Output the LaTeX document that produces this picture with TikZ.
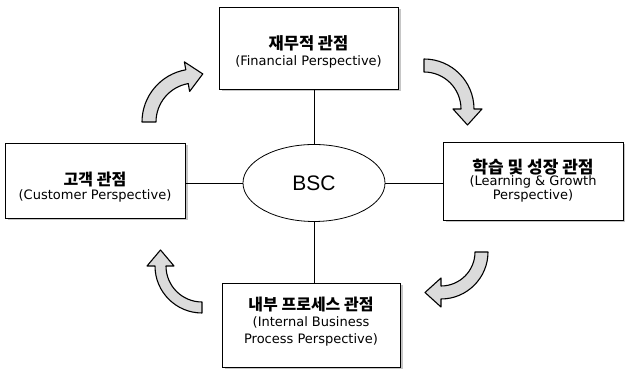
\documentclass[tikz,border=0pt]{standalone}
\usepackage{fontspec}
\setmainfont{Liberation Sans}
\newfontfamily\kr{Noto Sans CJK KR}
\newfontfamily\en{DejaVu Sans}
\usetikzlibrary{calc,shapes.geometric,shadows}
\tikzset{
  persp/.style={draw=black, line width=0.8pt, fill=white, inner sep=0pt,
    drop shadow={shadow xshift=2.5pt, shadow yshift=-2.5pt, fill=gray!45, opacity=1}},
  ktext/.style={inner sep=0pt, font=\kr\bfseries\fontsize{#1}{#1}\selectfont},
  etext/.style={inner sep=0pt, font=\en\fontsize{#1}{#1}\selectfont},
  hub/.style={ellipse, draw=black, line width=0.8pt, fill=white, minimum width=142pt,
    minimum height=77pt, inner sep=0pt, font=\fontsize{21}{24}\selectfont},
  link/.style={line width=0.8pt},
  bigarrow/.style={draw=black, line width=1.1pt, fill=gray!28, line join=round}
}
% clockwise block arrow: cx, cy, r inner, r outer, start angle, end angle
\newcommand\cwarrow[6]{%
  \begin{scope}[shift={(#1,#2)}]
    \draw[bigarrow] ({#5}:{#4}) arc[start angle=#5, end angle=#6, radius=#4]
      -- ({#6}:{#4+8}) -- ($({#6}:{(#3+#4)/2})+({#6-90}:16)$)
      -- ({#6}:{#3-8}) -- ({#6}:{#3})
      arc[start angle=#6, end angle=#5, radius=#3] -- cycle;
  \end{scope}}
\begin{document}
\begin{tikzpicture}[x=1pt,y=1pt]
\useasboundingbox (0,0) rectangle (625,371);
\node[persp, minimum width=179pt, minimum height=82pt] (fin) at (308.5,323) {};
\node[persp, minimum width=180pt, minimum height=75pt] (cus) at (95,190.5) {};
\node[persp, minimum width=180pt, minimum height=78pt] (lrn) at (533,190) {};
\node[persp, minimum width=178pt, minimum height=84pt] (ibp) at (311,46) {};
% texts
\node[ktext=16.5] (fink) at (308.5,327.5) {재무적 관점};
\node[etext=13] (fine) at (308.5,309) {(Financial Perspective)};
\node[ktext=16] (cusk) at (95,191) {고객 관점};
\node[etext=13] (cuse) at (95,175) {(Customer Perspective)};
\node[ktext=17] (lrnk) at (533,204) {학습 및 성장 관점};
\node[etext=13] (lrne1) at (533,189) {(Learning \& Growth};
\node[etext=13] (lrne2) at (533,175) {Perspective)};
\node[ktext=16] (ibpk) at (311,66) {내부 프로세스 관점};
\node[etext=13] (ibpe1) at (311,49) {(Internal Business};
\node[etext=13] (ibpe2) at (311,31) {Process Perspective)};
\node[hub] (bsc) at (314,188) {BSC};
\draw[link] (bsc.north) -- (bsc.north |- fin.south);
\draw[link] (bsc.south) -- (bsc.south |- ibp.north);
\draw[link] (bsc.west) -- (bsc.west -| cus.east);
\draw[link] (bsc.east) -- (bsc.east -| lrn.west);
\cwarrow{195}{249}{39}{53}{180}{100}
\cwarrow{424}{262}{37}{50}{90}{0}
\cwarrow{441}{119}{34}{47}{0}{-90}
\cwarrow{202}{105}{36}{47}{-90}{-180}
\end{tikzpicture}
\end{document}
